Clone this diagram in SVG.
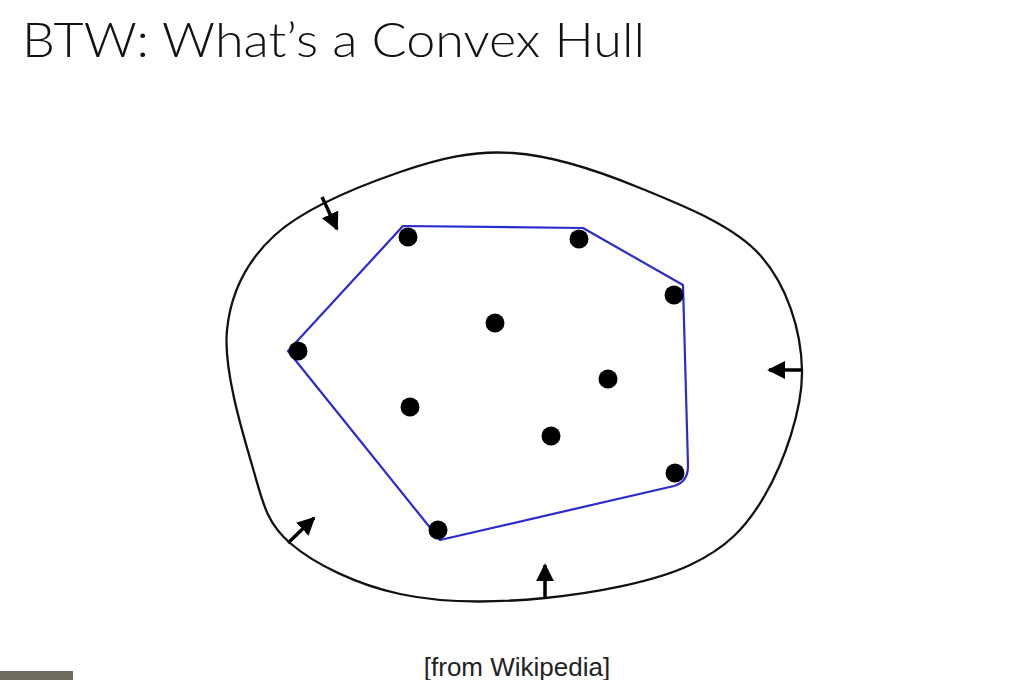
<svg xmlns="http://www.w3.org/2000/svg" width="1035" height="680" viewBox="0 0 1035 680">
  <style>
    .title { font-family: Lato, "Open Sans", sans-serif; font-weight: 300; font-size: 48px; fill: #111; }
    .caption { font-family: "Liberation Sans", Arial, sans-serif; font-size: 26px; fill: #222; }
    .outer { fill: none; stroke: #111; stroke-width: 2.3; }
    .hull { fill: none; stroke: #2b2bd0; stroke-width: 2.2; stroke-linejoin: round; }
    .dot { fill: #000; }
    .arrow { stroke: #000; stroke-width: 3.5; fill: none; marker-end: url(#head); }
  </style>
  <defs>
    <marker id="head" markerUnits="userSpaceOnUse" markerWidth="18" markerHeight="18" viewBox="0 0 10 10" refX="9" refY="5" orient="auto">
      <path d="M0,0 L10,5 L0,10 Z" fill="#000"/>
    </marker>
  </defs>
  <rect width="1035" height="680" fill="#fff"/>
  <text class="title" x="22" y="57" textLength="623" lengthAdjust="spacingAndGlyphs">BTW: What’s a Convex Hull</text>

  <g id="outer-curve">
    <path class="outer" d="M513,153 C553,155.7 598.8,171 640,188 C681.2,205 733,224.7 760,255 C787,285.3 801.2,330 802,370 C802.8,410 783.7,462.5 765,495 C746.3,527.5 726.7,547.8 690,565 C653.3,582.2 593.3,593.2 545,598 C496.7,602.8 442.5,603.2 400,594 C357.5,584.8 314.7,564.5 290,543 C265.3,521.5 262.5,500.5 252,465 C241.5,429.5 223.2,368.3 227,330 C230.8,291.7 246.2,261.3 275,235 C303.8,208.7 360.3,185.7 400,172 C439.7,158.3 473,150.3 513,153 Z"/>
  </g>

  <g id="hull">
    <path class="hull" d="M403,226 L583,228 L683,285 L688,466 Q688,482 674,486 L440,540 L288,351 Z"/>
  </g>

  <g id="points">
    <circle id="p1" class="dot" cx="408" cy="237" r="9.5"/>
    <circle id="p2" class="dot" cx="579" cy="239" r="9.5"/>
    <circle id="p3" class="dot" cx="674" cy="295" r="9.5"/>
    <circle id="p4" class="dot" cx="298" cy="351" r="9.5"/>
    <circle id="p5" class="dot" cx="495" cy="323" r="9.5"/>
    <circle id="p6" class="dot" cx="608" cy="379" r="9.5"/>
    <circle id="p7" class="dot" cx="410" cy="407" r="9.5"/>
    <circle id="p8" class="dot" cx="551" cy="436" r="9.5"/>
    <circle id="p9" class="dot" cx="675" cy="473" r="9.5"/>
    <circle id="p10" class="dot" cx="438" cy="530" r="9.5"/>
  </g>

  <g id="connectors">
    <line class="arrow" x1="322" y1="197" x2="337" y2="229"/>
    <line class="arrow" x1="801" y1="370" x2="769" y2="370"/>
    <line class="arrow" x1="288" y1="543" x2="314" y2="518"/>
    <line class="arrow" x1="545" y1="599" x2="545" y2="565"/>
  </g>

  <text class="caption" x="517" y="676" text-anchor="middle">[from Wikipedia]</text>
  <rect x="0" y="671" width="73" height="9" fill="#6e6c60"/>
</svg>
